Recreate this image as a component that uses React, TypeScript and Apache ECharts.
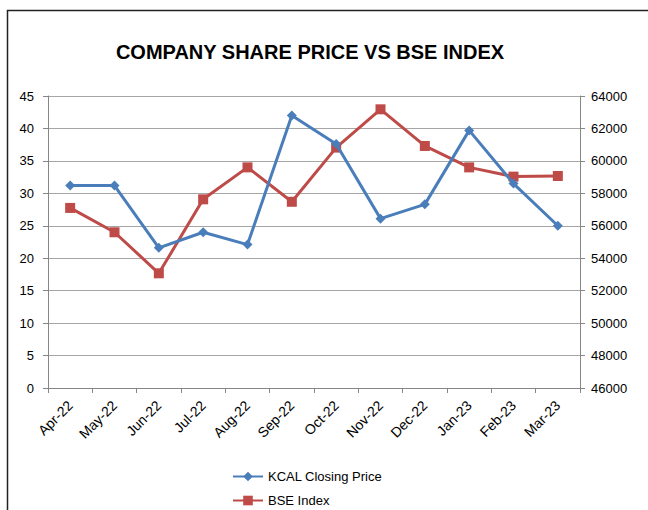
import React, { useEffect, useRef } from "react";
import * as echarts from "echarts";

const categories = ["Apr-22", "May-22", "Jun-22", "Jul-22", "Aug-22", "Sep-22", "Oct-22", "Nov-22", "Dec-22", "Jan-23", "Feb-23", "Mar-23"];
const kcalClosing = [31.2, 31.2, 21.6, 24.0, 22.1, 42.0, 37.6, 26.1, 28.3, 39.7, 31.5, 25.0];
const bseIndex = [57100, 55600, 53070, 57630, 59600, 57480, 60820, 63180, 60920, 59600, 59030, 59070];
const titleText = "COMPANY SHARE PRICE VS BSE INDEX";
const seriesNames = ["KCAL Closing Price", "BSE Index"];

const FONT = "'Liberation Sans', Arial, sans-serif";

export default function App() {
  const ref = useRef<HTMLDivElement>(null);
  useEffect(() => {
    document.body.style.margin = "0";
    const chart = echarts.init(ref.current!, undefined, { renderer: "svg" });
    chart.setOption({
      animation: false,
      backgroundColor: "#ffffff",
      textStyle: { fontFamily: FONT },
      title: {
        text: titleText,
        left: 305,
        top: 37,
        textAlign: "center",
        textStyle: { fontFamily: FONT, fontWeight: "bold", fontSize: 20, color: "#000" },
      },
      graphic: [
        {
          type: "rect",
          shape: { x: 7.5, y: 10.5, width: 700, height: 600 },
          style: { fill: "none", stroke: "#222", lineWidth: 1.5 },
          silent: true,
        },
      ],
      legend: {
        orient: "vertical",
        left: 232,
        top: 470,
        height: 80,
        padding: 0,
        itemGap: 11,
        itemWidth: 30,
        itemHeight: 12,
        textStyle: { fontFamily: FONT, fontSize: 13, color: "#000" },
        data: seriesNames,
      },
      grid: { left: 48, right: 68, top: 96, bottom: 122, containLabel: false },
      xAxis: {
        type: "category",
        data: categories,
        boundaryGap: true,
        axisLine: { lineStyle: { color: "#868686", width: 1 } },
        axisTick: { show: true, length: 5, lineStyle: { color: "#868686" } },
        axisLabel: { rotate: 45, fontSize: 14, color: "#000", fontFamily: FONT, margin: 15 },
      },
      yAxis: [
        {
          type: "value",
          min: 0,
          max: 45,
          interval: 5,
          axisLine: { show: true, lineStyle: { color: "#868686" } },
          axisTick: { show: true, length: 5, lineStyle: { color: "#868686" } },
          splitLine: { show: true, lineStyle: { color: "#a6a6a6", width: 1 } },
          axisLabel: { fontSize: 13, color: "#000", fontFamily: FONT, margin: 14 },
        },
        {
          type: "value",
          min: 46000,
          max: 64000,
          interval: 2000,
          position: "right",
          axisLine: { show: true, lineStyle: { color: "#868686" } },
          axisTick: { show: true, length: 5, lineStyle: { color: "#868686" } },
          splitLine: { show: false },
          axisLabel: { fontSize: 13, color: "#000", fontFamily: FONT, margin: 11, formatter: (v: number) => String(v) },
        },
      ],
      series: [
        {
          name: seriesNames[0],
          type: "line",
          yAxisIndex: 0,
          data: kcalClosing,
          symbol: "diamond",
          symbolSize: 10,
          lineStyle: { color: "#4a7ebb", width: 3 },
          itemStyle: { color: "#4a7ebb" },
          z: 3,
        },
        {
          name: seriesNames[1],
          type: "line",
          yAxisIndex: 1,
          data: bseIndex,
          symbol: "rect",
          symbolSize: 10,
          lineStyle: { color: "#be4b48", width: 3 },
          itemStyle: { color: "#be4b48" },
          z: 2,
        },
      ],
    });
    return () => chart.dispose();
  }, []);
  return <div ref={ref} style={{ width: 648, height: 510 }} />;
}
